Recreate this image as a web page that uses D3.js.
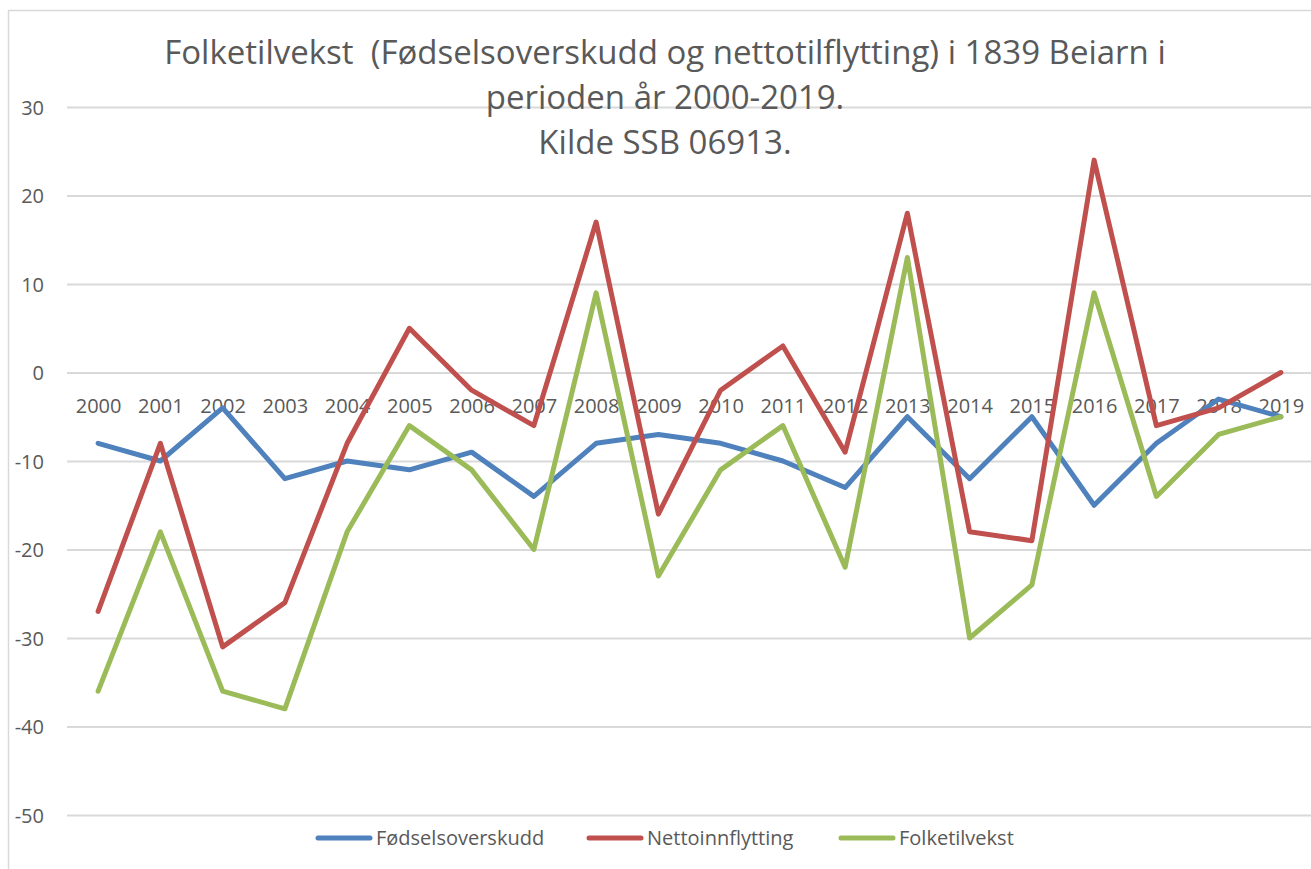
<!DOCTYPE html>
<html>
<head>
<meta charset="utf-8">
<script src="https://cdn.jsdelivr.net/npm/d3@7"></script>
<style>
  html, body { margin: 0; padding: 0; background: #fff; }
  svg { display: block; font-family: "Open Sans", "Noto Sans", sans-serif; }
</style>
</head>
<body>
<div id="chart"></div>
<script>
const years = ["2000","2001","2002","2003","2004","2005","2006","2007","2008","2009",
               "2010","2011","2012","2013","2014","2015","2016","2017","2018","2019"];
const fodselsoverskudd = [-8, -10, -4, -12, -10, -11, -9, -14, -8, -7, -8, -10, -13, -5, -12, -5, -15, -8, -3, -5];
const nettoinnflytting = [-27, -8, -31, -26, -8, 5, -2, -6, 17, -16, -2, 3, -9, 18, -18, -19, 24, -6, -4, 0];
const folketilvekst = [-36, -18, -36, -38, -18, -6, -11, -20, 9, -23, -11, -6, -22, 13, -30, -24, 9, -14, -7, -5];
const yTicks = [30, 20, 10, 0, -10, -20, -30, -40, -50];
const seriesNames = ["Fødselsoverskudd", "Nettoinnflytting", "Folketilvekst"];
const titleLines = [
  "Folketilvekst  (Fødselsoverskudd og nettotilflytting) i 1839 Beiarn i",
  "perioden år 2000-2019.",
  "Kilde SSB 06913."
];

const width = 1311, height = 869;
const colors = ["#4F81BD", "#C0504D", "#9BBB59"];
const textColor = "#595959";
const gridColor = "#D9D9D9";

const series = seriesNames.map((name, i) => ({
  name,
  color: colors[i],
  values: [fodselsoverskudd, nettoinnflytting, folketilvekst][i]
}));

const svg = d3.select("#chart")
  .append("svg")
  .attr("width", width)
  .attr("height", height);

// chart frame (only left + top visible in the crop)
svg.append("path")
  .attr("d", `M8.5,${height} L8.5,10.5 L${width},10.5`)
  .attr("fill", "none")
  .attr("stroke", gridColor)
  .attr("stroke-width", 1.5);

const x = d3.scalePoint()
  .domain(years)
  .range([67, 1312])
  .padding(0.5);

const y = d3.scaleLinear()
  .domain([-50, 30])
  .range([815, 107]);

// gridlines + y labels (plain hyphen, like the original)
const yAxis = d3.axisLeft(y)
  .tickValues(yTicks)
  .tickFormat(d => String(d))
  .tickSize(-(1312 - 67));

const gy = svg.append("g")
  .attr("transform", "translate(67,0)")
  .call(yAxis)
  .attr("font-family", null)
  .attr("font-size", null);
gy.select(".domain").remove();
gy.selectAll(".tick line")
  .attr("stroke", gridColor)
  .attr("stroke-width", 2);
gy.selectAll(".tick text")
  .attr("fill", textColor)
  .style("font-size", "20px")
  .attr("x", -23)
  .attr("dy", "0.35em");

// category axis crossing at zero
const xAxis = d3.axisBottom(x).tickSize(0).tickPadding(0);
const gx = svg.append("g")
  .attr("transform", `translate(0,${y(0)})`)
  .call(xAxis)
  .attr("font-family", null)
  .attr("font-size", null);
gx.select(".domain").remove();
gx.selectAll(".tick text")
  .attr("fill", textColor)
  .style("font-size", "20px")
  .attr("y", 40)
  .attr("dy", 0);

// lines
const line = d3.line()
  .x((d, i) => x(years[i]))
  .y(d => y(d));

svg.append("g")
  .selectAll("path")
  .data(series)
  .enter()
  .append("path")
  .attr("d", d => line(d.values))
  .attr("fill", "none")
  .attr("stroke", d => d.color)
  .attr("stroke-width", 5)
  .attr("stroke-linejoin", "round")
  .attr("stroke-linecap", "round");

// title
svg.append("text")
  .attr("text-anchor", "middle")
  .attr("fill", textColor)
  .style("font-size", "33px")
  .style("white-space", "pre")
  .attr("xml:space", "preserve")
  .selectAll("tspan")
  .data(titleLines)
  .enter()
  .append("tspan")
  .attr("x", 665)
  .attr("y", (d, i) => 64 + i * 45)
  .text(d => d);

// legend
const legendX = [318, 589, 841];
const legend = svg.append("g")
  .selectAll("g")
  .data(series)
  .enter()
  .append("g")
  .attr("transform", (d, i) => `translate(${legendX[i]},838)`);

legend.append("line")
  .attr("x1", 0)
  .attr("x2", 52)
  .attr("stroke", d => d.color)
  .attr("stroke-width", 5)
  .attr("stroke-linecap", "round");

legend.append("text")
  .attr("x", 58)
  .attr("dy", "0.35em")
  .attr("fill", textColor)
  .style("font-size", "20px")
  .text(d => d.name);
</script>
</body>
</html>
